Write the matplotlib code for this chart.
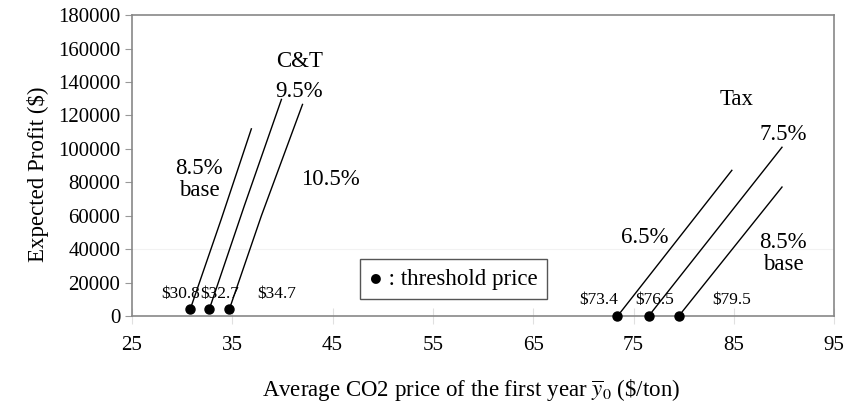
import matplotlib.pyplot as plt
import numpy as np

plt.rcParams['font.family'] = ['Liberation Serif', 'DejaVu Serif']
plt.rcParams['mathtext.fontset'] = 'stix'

# C&T 곡선 (8.5% base, 9.5%, 10.5%)
ct_names = ['8.5%', '9.5%', '10.5%']
ct_x = [[30.8, 33.9, 36.9], [32.7, 36.2, 39.9], [34.7, 37.9, 42.0]]
ct_y = [[4000, 58000, 112000], [4000, 66000, 129600], [4000, 60000, 126600]]
ct_threshold = [30.8, 32.7, 34.7]

# Tax 곡선 (6.5%, 7.5%, 8.5% base)
tax_names = ['6.5%', '7.5%', '8.5%']
tax_x = [[73.4, 84.8], [76.5, 89.8], [79.5, 89.8]]
tax_y = [[0, 87200], [0, 101000], [0, 77200]]
tax_threshold = [73.4, 76.5, 79.5]

x_ticks = [25, 35, 45, 55, 65, 75, 85, 95]
y_ticks = [0, 20000, 40000, 60000, 80000, 100000, 120000, 140000, 160000, 180000]

fig = plt.figure(figsize=(8.46, 4.09), dpi=100)
ax = fig.add_axes([0.156, 0.227, 0.830, 0.736])

ax.axhline(40000, color='#f2f2f2', lw=0.8, zorder=0)

for xs, ys in zip(ct_x, ct_y):
    ax.plot(xs, ys, color='black', lw=1.0)
ax.plot(ct_threshold, [4000] * 3, 'o', color='black', ms=6.5)
for xs, ys in zip(tax_x, tax_y):
    ax.plot(xs, ys, color='black', lw=1.0)
ax.plot(tax_threshold, [0] * 3, 'o', color='black', ms=6.5, clip_on=False, zorder=5)

# 가격 라벨
for v, xt in zip(ct_threshold, [29.8, 33.7, 39.4]):
    ax.text(xt, 13000, '\\$%.1f' % v, fontsize=12.5, ha='center', va='center')
for v, xt in zip(tax_threshold, [71.5, 77.1, 84.8]):
    ax.text(xt, 9600, '\\$%.1f' % v, fontsize=12.5, ha='center', va='center')

fs = 16.5
ax.text(41.7, 152400, 'C&T', fontsize=fs, ha='center', va='center')
ax.text(41.7, 134400, ct_names[1], fontsize=fs, ha='center', va='center')
ax.text(31.7, 81600, ct_names[0] + '\nbase', fontsize=fs, ha='center', va='center', linespacing=1.05)
ax.text(44.8, 81600, ct_names[2], fontsize=fs, ha='center', va='center')
ax.text(85.3, 129600, 'Tax', fontsize=fs, ha='center', va='center')
ax.text(89.9, 108600, tax_names[1], fontsize=fs, ha='center', va='center')
ax.text(76.1, 46800, tax_names[0], fontsize=fs, ha='center', va='center')
ax.text(89.9, 37500, tax_names[2] + '\nbase', fontsize=fs, ha='center', va='center', linespacing=1.05)

ax.text(48.6, 22200, '\u25cf : threshold price', fontsize=16.5, ha='left', va='center',
        bbox=dict(boxstyle='square,pad=0.4', fc='white', ec='#555555', lw=1.0))

ax.set_xlim(25, 95)
ax.set_ylim(0, 180000)
ax.set_xticks(x_ticks)
ax.set_yticks(y_ticks)
ax.tick_params(axis='x', direction='inout', length=12, color='#e0e0e0', labelsize=15, pad=8)
ax.tick_params(axis='y', direction='out', length=5, color='#999999', labelsize=15)
for s in ax.spines.values():
    s.set_color('#888888')
    s.set_linewidth(1.2)

ax.set_ylabel('Expected Profit ($)', fontsize=16.5, labelpad=6)
ax.yaxis.label.set_y(0.47)
ax.set_xlabel(r'Average CO2 price of the first year $\overline{y}_0$ (\$/ton)', fontsize=16.5, labelpad=16)
ax.xaxis.label.set_x(0.483)

fig.savefig('out.png', dpi=100)
